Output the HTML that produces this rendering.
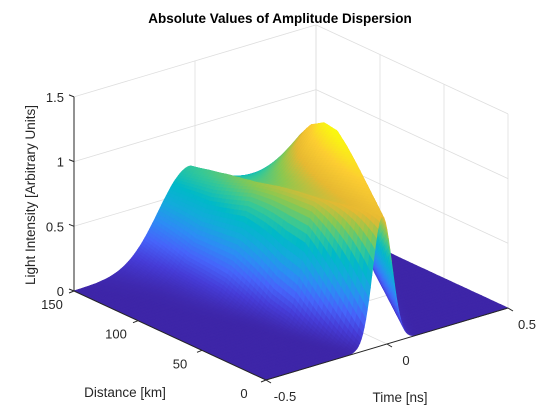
<!DOCTYPE html>
<html><head><meta charset="utf-8"><style>
html,body{margin:0;padding:0;background:#fff;}
svg{display:block;font-family:"Liberation Sans",Arial,sans-serif;}
</style></head><body>
<svg id="chart" width="560" height="420" viewBox="0 0 560 420">
<rect width="560" height="420" fill="#fff"/>
<g id="grid"></g>
<g id="surf"></g>
<g id="axes"></g>
<text x="280" y="23" text-anchor="middle" font-weight="bold" font-size="13.5" fill="#000">Absolute Values of Amplitude Dispersion</text>
<text x="125" y="397" text-anchor="middle" font-size="13.5" fill="#262626">Distance [km]</text>
<text x="400" y="402" text-anchor="middle" font-size="13.5" fill="#262626">Time [ns]</text>
<text transform="translate(35,195) rotate(-90)" text-anchor="middle" font-size="13.5" fill="#262626">Light Intensity [Arbitrary Units]</text>
</svg>
<script>
// data: per-distance pulse parameters (distance rows 0..150 km)
const distances = [0,15,30,45,60,75,90,105,120,135,150];
const leftEdge = [-0.02,-0.03,-0.04,-0.05,-0.05,-0.05,-0.05,-0.04,-0.03,-0.025,-0.02];
const rightEdge = [-0.02,0.02,0.06,0.10,0.14,0.18,0.21,0.24,0.28,0.32,0.36];
const edgeWidth = [0.04,0.045,0.05,0.055,0.06,0.07,0.08,0.09,0.10,0.115,0.13];
const leftHeight = [1,0.99,0.97,0.95,0.93,0.9,0.86,0.82,0.78,0.74,0.7];
const rightHeight = [1,1.05,1.10,1.15,1.19,1.21,1.18,1.08,0.92,0.72,0.5];
const centerDip = [0,0.02,0.04,0.06,0.08,0.1,0.12,0.13,0.13,0.12,0.1];
const zTicks = [0,0.5,1,1.5];
const zTickLabels = ["0","0.5","1","1.5"];
const dTicks = [0,50,100,150];
const dTickLabels = ["0","50","100","150"];
const tTicks = [-0.5,0,0.5];
const tTickLabels = ["-0.5","0","0.5"];

const NS="http://www.w3.org/2000/svg";
function P(t,d,z){const s=t+0.5,u=d/150;return [266+242*s-192*u, 380-72*s-89*u-129.4*z];}
function lerpArr(arr,d){const f=d/15;const i=Math.min(9,Math.floor(f));const r=f-i;return arr[i]*(1-r)+arr[i+1]*r;}
function Z(t,d){
  const tL=lerpArr(leftEdge,d),tR=lerpArr(rightEdge,d),w=lerpArr(edgeWidth,d);
  const hL=lerpArr(leftHeight,d),hR=lerpArr(rightHeight,d),dip=lerpArr(centerDip,d);
  let r=(t-tL)/Math.max(1e-6,tR-tL);r=Math.max(0,Math.min(1,r));
  const sm=r*r*(3-2*r);
  const h=hL+(hR-hL)*sm-dip*4*r*(1-r);
  const ex=Math.max(0,tL-t,t-tR);
  return h*Math.exp(-ex*ex/(2*w*w));
}
const cmap=[[0,62,38,168],[0.1,70,60,215],[0.2,70,100,250],[0.3,45,140,245],[0.4,20,170,220],[0.5,0,185,200],[0.6,55,200,150],[0.7,140,200,80],[0.8,230,185,50],[0.9,252,205,50],[1,249,251,14]];
function color(v){v=Math.max(0,Math.min(1,v));for(let i=1;i<cmap.length;i++){if(v<=cmap[i][0]){const a=cmap[i-1],b=cmap[i];const r=(v-a[0])/(b[0]-a[0]);return `rgb(${Math.round(a[1]+(b[1]-a[1])*r)},${Math.round(a[2]+(b[2]-a[2])*r)},${Math.round(a[3]+(b[3]-a[3])*r)})`;}}return "rgb(249,251,14)";}

const grid=document.getElementById('grid');
function line(g,a,b,c,w,name){const l=document.createElementNS(NS,'line');l.setAttribute('x1',a[0]);l.setAttribute('y1',a[1]);l.setAttribute('x2',b[0]);l.setAttribute('y2',b[1]);l.setAttribute('stroke',c);l.setAttribute('stroke-width',w);


g.appendChild(l);}
zTicks.forEach(z=>{line(grid,P(-0.5,150,z),P(0.5,150,z),'#dedede',0.8,'grid-line-z');line(grid,P(0.5,150,z),P(0.5,0,z),'#dedede',0.8,'grid-line-z');});
tTicks.forEach(t=>{line(grid,P(t,150,0),P(t,150,1.5),'#dedede',0.8,'grid-line-t');line(grid,P(t,0,0),P(t,150,0),'#dedede',0.8,'grid-line-t');});
dTicks.forEach(d=>{line(grid,P(0.5,d,0),P(0.5,d,1.5),'#dedede',0.8,'grid-line-d');line(grid,P(-0.5,d,0),P(0.5,d,0),'#dedede',0.8,'grid-line-d');});

const NT=160,ND=50;const Zg=[];let zmax=0;
for(let j=0;j<=ND;j++){Zg[j]=[];const d=150*j/ND;for(let i=0;i<=NT;i++){const t=-0.5+i/NT;const z=Z(t,d);Zg[j][i]=z;if(z>zmax)zmax=z;}}
const quads=[];
for(let j=0;j<ND;j++)for(let i=0;i<NT;i++){const s=(i+0.5)/NT,u=(j+0.5)/ND;quads.push([72*s+89*u,i,j]);}
quads.sort((a,b)=>b[0]-a[0]);
const surf=document.getElementById('surf');let html='';
quads.forEach(q=>{const i=q[1],j=q[2];const t0=-0.5+i/NT,t1=-0.5+(i+1)/NT,d0=150*j/ND,d1=150*(j+1)/ND;
const z00=Zg[j][i],z10=Zg[j][i+1],z11=Zg[j+1][i+1],z01=Zg[j+1][i];
const pts=[P(t0,d0,z00),P(t1,d0,z10),P(t1,d1,z11),P(t0,d1,z01)].map(p=>p[0].toFixed(1)+','+p[1].toFixed(1)).join(' ');
const c=color(((z00+z10+z11+z01)/4)/zmax);
html+=`<polygon points="${pts}" fill="${c}" stroke="${c}" stroke-width="0.7"/>`;});
surf.innerHTML=html;

const ax=document.getElementById('axes');
function text(x,y,s,anchor,name){const t=document.createElementNS(NS,'text');t.setAttribute('x',x);t.setAttribute('y',y);t.setAttribute('text-anchor',anchor);t.setAttribute('font-size','13');t.setAttribute('fill','#262626');t.textContent=s;


ax.appendChild(t);}
line(ax,P(-0.5,150,0),P(-0.5,150,1.5),'#262626',1,'z-axis-line');
line(ax,P(-0.5,150,0),P(-0.5,0,0),'#262626',1,'distance-axis-line');
line(ax,P(-0.5,0,0),P(0.5,0,0),'#262626',1,'time-axis-line');
zTicks.forEach((z,k)=>{const p=P(-0.5,150,z);line(ax,p,[p[0]-5,p[1]-2],'#262626',1,'z-tick');text(p[0]-10,p[1]+5,zTickLabels[k],'end','z-tick-label');});
dTicks.forEach((d,k)=>{const p=P(-0.5,d,0);line(ax,p,[p[0]-5,p[1]+2],'#262626',1,'distance-tick');text(p[0]-22,p[1]+18,dTickLabels[k],'middle','distance-tick-label');});
tTicks.forEach((t,k)=>{const p=P(t,0,0);line(ax,p,[p[0]+5,p[1]+3],'#262626',1,'time-tick');text(p[0]+19,p[1]+21,tTickLabels[k],'middle','time-tick-label');});
</script>
</body></html>
